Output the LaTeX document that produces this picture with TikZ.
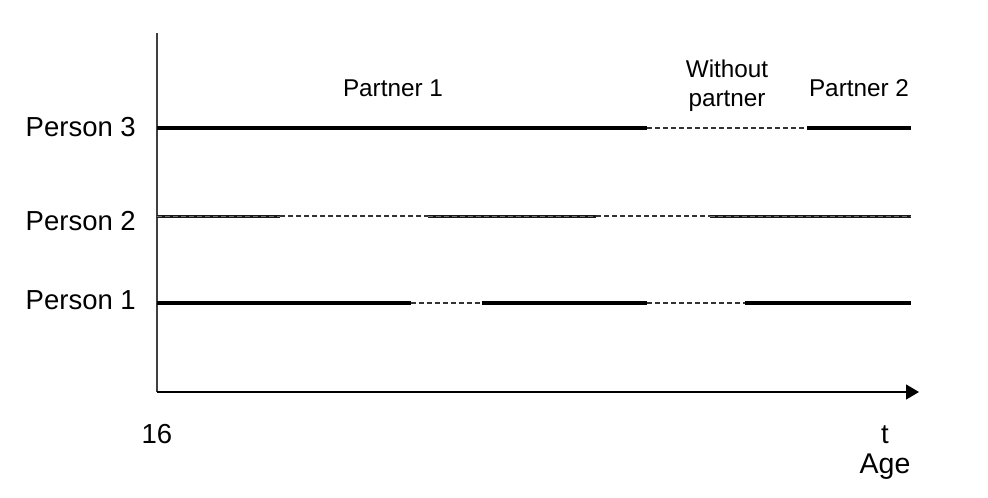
\documentclass[tikz,border=0pt]{standalone}
\usepackage{fontspec}
\setmainfont{Liberation Sans}
\usetikzlibrary{arrows.meta}
\begin{document}
\begin{tikzpicture}[x=1pt,y=-1pt,
  lbl/.style={font=\fontsize{27.5}{31}\selectfont,inner sep=0pt},
  small/.style={font=\fontsize{24.3}{29}\selectfont,inner sep=0pt,align=center},
  axis/.style={draw=black!75,line width=1.3pt},
  solidseg/.style={line width=3.2pt,black},
  graysolid/.style={line width=3pt,black!90},
  grayover/.style={line width=0.9pt,black!55,dash pattern=on 5pt off 3pt},
  thickseg/.style={line width=4.6pt,black},
  dashseg/.style={line width=1.1pt,black!80,dash pattern=on 5pt off 3pt}]
\useasboundingbox (0,0) rectangle (988,498);
% axes
\coordinate (O) at (157,392);
\coordinate (ytop) at (157,33);
\coordinate (xend) at (919,392);
\draw[axis] (ytop) -- (O);
\draw[axis,-{Triangle[length=13pt,width=15pt]},black] (O) -- (xend);
% Person 3
\coordinate (a0) at (157,128); \coordinate (a1) at (482,128);
\coordinate (a2) at (560,128); \coordinate (a3) at (647,128);
\coordinate (a4) at (807,128); \coordinate (a5) at (911,128);
\draw[solidseg] (a0) -- (a3);
\draw[thickseg] (a1) -- (a2);
\draw[dashseg] (a3) -- (a4);
\draw[solidseg] (a4) -- (a5);
% Person 2
\coordinate (b0) at (157,216); \coordinate (b1) at (280,216);
\coordinate (b2) at (428,216); \coordinate (b3) at (596,216);
\coordinate (b4) at (710,216); \coordinate (b5) at (911,216);
\draw[graysolid] (b0) -- (b1);
\draw[grayover] (b0) -- (b1);
\draw[dashseg] (b1) -- (b2);
\draw[graysolid] (b2) -- (b3);
\draw[grayover] (b2) -- (b3);
\draw[dashseg] (b3) -- (b4);
\draw[graysolid] (b4) -- (b5);
\draw[grayover] (b4) -- (b5);
% Person 1
\coordinate (c0) at (157,303); \coordinate (c1) at (411,303);
\coordinate (c2) at (482,303); \coordinate (c3) at (647,303);
\coordinate (c4) at (745,303); \coordinate (c5) at (911,303);
\draw[solidseg] (c0) -- (c1);
\draw[dashseg] (c1) -- (c2);
\draw[solidseg] (c2) -- (c3);
\draw[dashseg] (c3) -- (c4);
\draw[solidseg] (c4) -- (c5);
% labels
\node[lbl,anchor=east] (p3) at (136,127) {Person 3};
\node[lbl,anchor=east] (p2) at (136,221) {Person 2};
\node[lbl,anchor=east] (p1) at (136,300) {Person 1};
\node[small] (pa1) at (393,88) {Partner 1};
\node[small] (wp) at (727,86) {Without\\partner};
\node[small] (pa2) at (859,88) {Partner 2};
\node[lbl] (sixteen) at (157,434) {16};
\node[lbl] (t) at (885,435) {t};
\node[lbl,font=\fontsize{28.5}{31}\selectfont] (age) at (885,467) {Age};
\end{tikzpicture}
\end{document}
